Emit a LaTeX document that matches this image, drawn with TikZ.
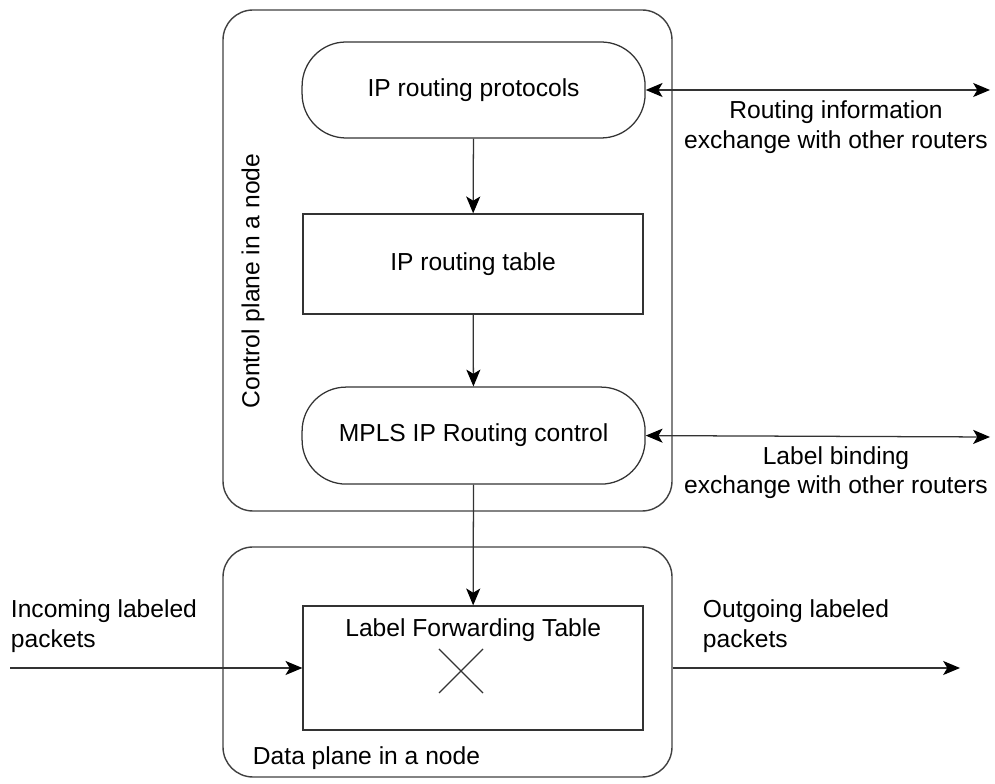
\documentclass[tikz,border=0pt]{standalone}
\usepackage{fontspec}
\setmainfont{Liberation Sans}
\usepackage{tikz}
\usetikzlibrary{arrows.meta}
\usetikzlibrary{calc}
\tikzset{
  pill/.style={draw=black!80, line width=0.9pt, rounded corners=1.1cm, minimum width=8.575cm, minimum height=2.4cm},
  tbl/.style={draw=black!80, line width=0.9pt, minimum width=8.5cm},
  plane/.style={draw=black!75, line width=1pt, rounded corners=0.75cm, inner sep=0pt},
  arr/.style={draw=black!80, line width=0.9pt, -{Stealth[length=12pt,width=10pt,inset=3pt,black]}},
  darr/.style={draw=black!80, line width=0.9pt, {Stealth[length=12pt,width=10pt,inset=3pt,black]}-{Stealth[length=12pt,width=10pt,inset=3pt,black]}}
}
\begin{document}
\begin{tikzpicture}[font=\fontsize{17.5}{21}\selectfont]
\useasboundingbox (0,0) rectangle (24.875,19.6);
% the two planes
\node[plane, minimum width=11.225cm, minimum height=12.525cm] (cp) at (11.1875,13.0875) {};
\node[plane, minimum width=11.225cm, minimum height=5.75cm] (dp) at (11.1875,3.05) {};
\node[rotate=90] (cplabel) at (6.325,12.575) {Control plane in a node};
\node[anchor=west] (dplabel) at (6.2,0.65) {Data plane in a node};
% control plane
\node[pill] (proto) at (11.84,17.35) {IP routing protocols};
\node[tbl, minimum height=2.5cm] (rib) at (11.825,13.0) {IP routing table};
\node[pill, minimum height=2.425cm] (mpls) at (11.84,8.71) {MPLS IP Routing control};
% data plane
\node[tbl, minimum height=3.1cm] (lft) at (11.825,2.9) {};
\node (lftlabel) at (11.83,3.85) {Label Forwarding Table};
\coordinate (x) at (11.525,2.825);
\draw[black!80, line width=0.9pt] ($(x)+(-0.55,-0.55)$) -- ($(x)+(0.55,0.55)$)
  ($(x)+(-0.55,0.55)$) -- ($(x)+(0.55,-0.55)$);
\draw[arr] (proto) -- (rib);
\draw[arr] (rib) -- (mpls);
\draw[arr] (mpls) -- (lft);
% exchange with other routers
\coordinate (rt) at (24.75,17.35);
\coordinate (lb) at (24.75,8.675);
\draw[darr] (proto.east) -- (rt);
\draw[darr] (mpls.east) -- (lb);
\node[align=center] (rtlabel) at (20.9,16.42) {Routing information\\exchange with other routers};
\node[align=center] (lblabel) at (20.9,7.78) {Label binding\\exchange with other routers};
% packets in and out
\coordinate (in) at (0.25,2.9);
\coordinate (out) at (24.0,2.9);
\draw[arr] (in) -- (lft.west);
\draw[arr] (dp.east |- lft.east) -- (out);
\node[anchor=west, align=left] (inlabel) at (0.15,3.95) {Incoming labeled\\packets};
\node[anchor=west, align=left] (outlabel) at (17.45,3.95) {Outgoing labeled\\packets};
\end{tikzpicture}
\end{document}
